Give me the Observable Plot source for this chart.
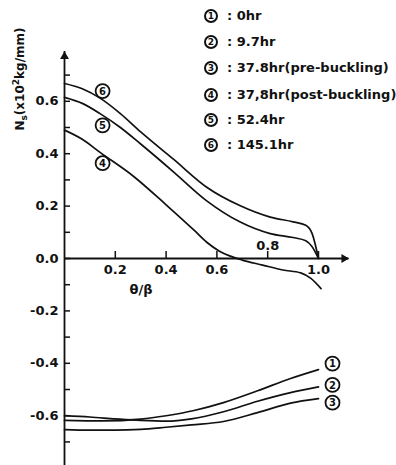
<!DOCTYPE html>
<html><head><meta charset="utf-8">
<script src="https://cdn.jsdelivr.net/npm/d3@7"></script>
<script src="https://cdn.jsdelivr.net/npm/@observablehq/plot@0.6"></script>
<style>
body{margin:0;background:#fff;}
#wrap{position:relative;width:396px;height:465px;font-family:"DejaVu Sans",sans-serif;color:#111;}
.row{position:absolute;left:204px;height:20px;line-height:20px;white-space:nowrap;font-weight:bold;font-size:13px;}
.row .c{display:inline-block;box-sizing:border-box;width:14px;height:14px;border:2px solid #111;border-radius:50%;
  font-size:9px;line-height:10px;text-align:center;vertical-align:middle;margin-top:-2px;}
.row .t{margin-left:9px;}
</style></head><body><div id="wrap"></div>
<script>
// ---- data ----
const xTicks = [0.2, 0.4, 0.6, 0.8, 1.0];
const yTicks = [-0.7, -0.6, -0.5, -0.4, -0.3, -0.2, -0.1, 0, 0.1, 0.2, 0.3, 0.4, 0.5, 0.6, 0.7];
const yTickLabels = [-0.6, -0.4, -0.2, 0, 0.2, 0.4, 0.6];
const seriesNumbers = ["1", "2", "3", "4", "5", "6"];
const legendTexts = ["0hr", "9.7hr", "37.8hr(pre-buckling)", "37,8hr(post-buckling)", "52.4hr", "145.1hr"];

const s1 = [[0,-0.618],[0.15,-0.62],[0.3,-0.613],[0.4,-0.600],[0.51,-0.580],[0.626,-0.550],[0.76,-0.505],[0.89,-0.458],[1.0,-0.424]];
const s2 = [[0,-0.600],[0.1,-0.605],[0.2,-0.612],[0.3,-0.618],[0.4,-0.621],[0.5,-0.612],[0.626,-0.585],[0.76,-0.545],[0.89,-0.512],[1.0,-0.49]];
const s3 = [[0,-0.653],[0.1,-0.655],[0.2,-0.655],[0.3,-0.652],[0.4,-0.644],[0.5,-0.635],[0.626,-0.622],[0.76,-0.588],[0.89,-0.552],[1.0,-0.535]];
const s4 = [[0,0.49],[0.07,0.455],[0.14,0.405],[0.27,0.315],[0.40,0.205],[0.51,0.108],[0.56,0.062],[0.61,0.028],[0.65,0.01],[0.70,-0.006],[0.78,-0.025],[0.86,-0.044],[0.93,-0.055],[0.97,-0.076],[1.01,-0.115]];
const s5 = [[0,0.615],[0.07,0.592],[0.14,0.553],[0.22,0.50],[0.30,0.437],[0.43,0.33],[0.56,0.22],[0.69,0.14],[0.81,0.095],[0.90,0.08],[0.95,0.068],[0.975,0.045],[1.0,0.0]];
const s6 = [[0,0.668],[0.07,0.648],[0.14,0.612],[0.22,0.553],[0.30,0.483],[0.43,0.378],[0.56,0.272],[0.69,0.202],[0.81,0.158],[0.90,0.14],[0.95,0.127],[0.975,0.095],[1.0,0.0]];

const xDomain = [0, 1.12];
const yDomain = [-0.79, 0.79];

// ---- build ----
const seriesList = [s1, s2, s3, s4, s5, s6];
const rows = seriesList.flatMap((s, i) => s.map(([x, y]) => ({series: seriesNumbers[i], x, y})));
const interp = (s, x) => {
  for (let i = 1; i < s.length; i++) if (s[i][0] >= x) {
    const [x0, y0] = s[i-1], [x1, y1] = s[i];
    return y0 + (y1 - y0) * (x - x0) / (x1 - x0);
  }
  return s[s.length-1][1];
};
const circled = (d, dx, dy) => [
  Plot.dot(d, {x: "x", y: "y", r: 7, dx, dy, fill: "white", stroke: "#111", strokeWidth: 1.8}),
  Plot.text(d, {x: "x", y: "y", text: "t", dx, dy: dy + 0.5, fontSize: 10, fontWeight: "bold", fill: "#111"})
];
const labelX = 0.15;
const midLabel = (i, dy) => circled([{x: labelX, y: interp(seriesList[i], labelX), t: seriesNumbers[i]}], 0, dy);
const endLabel = (i, dy) => {
  const last = seriesList[i][seriesList[i].length - 1];
  return circled([{x: last[0], y: last[1], t: seriesNumbers[i]}], 14, dy);
};
const fmt = d => (d < 0 ? "-" : "") + Math.abs(d).toFixed(1);
const FONT = "DejaVu Sans, sans-serif";

const chart = Plot.plot({
  width: 396, height: 465,
  marginLeft: 64, marginRight: 396 - 64 - 254 * xDomain[1], marginTop: 51, marginBottom: 0,
  x: {domain: xDomain, axis: null},
  y: {domain: yDomain, axis: null},
  style: {fontFamily: FONT, color: "#111", background: "transparent"},
  marks: [
    Plot.ruleX([0], {y1: yDomain[0], y2: yDomain[1], strokeWidth: 1.8, stroke: "#111"}),
    Plot.ruleY([0], {x1: 0, x2: xDomain[1], strokeWidth: 1.8, stroke: "#111"}),
    Plot.dot([{x: 0, y: yDomain[1]}], {x: "x", y: "y", symbol: "triangle", r: 3.3, fill: "#111", stroke: "none", dy: 5}),
    Plot.dot([{x: xDomain[1], y: 0}], {x: "x", y: "y", symbol: "triangle", r: 3.3, fill: "#111", stroke: "none", rotate: 90, dx: -5}),
    Plot.ruleY(yTicks, {y: d => d, x1: 0, x2: 0, insetRight: -6, strokeWidth: 1.5, stroke: "#111"}),
    Plot.ruleX(xTicks, {x: d => d, y1: 0, y2: 0, insetTop: -7, strokeWidth: 1.5, stroke: "#111"}),
    Plot.text(yTickLabels, {x: 0, y: d => d, text: fmt, textAnchor: "end", dx: -6, fontSize: 13, fontWeight: "bold", fill: "#111"}),
    Plot.text(xTicks.filter(d => d !== 0.8), {x: d => d, y: 0, text: fmt, dy: 11, fontSize: 13, fontWeight: "bold", fill: "#111"}),
    Plot.text(xTicks.filter(d => d === 0.8), {x: d => d, y: 0, text: fmt, dy: -13, fontSize: 13, fontWeight: "bold", fill: "#111"}),
    Plot.line(rows, {x: "x", y: "y", z: "series", curve: "monotone-x", stroke: "#111", strokeWidth: 1.7}),
    midLabel(5, -9), midLabel(4, 10), midLabel(3, 9),
    endLabel(0, -6), endLabel(1, -2), endLabel(2, 4)
  ]
});

const svg = d3.select(chart);
svg.append("text").attr("x", 141).attr("y", 294).attr("text-anchor", "middle")
  .attr("font-size", 13).attr("font-weight", "bold").attr("fill", "#111").text("θ/β");
const yl = svg.append("text").attr("transform", "translate(24,79) rotate(-90)").attr("text-anchor", "middle")
  .attr("font-size", 12).attr("font-weight", "bold").attr("fill", "#111");
yl.append("tspan").text("N");
yl.append("tspan").attr("font-size", 9).attr("dy", 3).text("s");
yl.append("tspan").attr("dy", -3).text("(x10");
yl.append("tspan").attr("font-size", 9).attr("dy", -5).text("2");
yl.append("tspan").attr("dy", 5).text("kg/mm)");

const wrap = document.getElementById("wrap");
chart.style.position = "absolute"; chart.style.left = "0"; chart.style.top = "0";
wrap.appendChild(chart);
const rowTops = [6, 32, 58, 85, 110, 135];
seriesNumbers.forEach((s, i) => {
  const div = document.createElement("div");
  div.className = "row";
  div.style.top = rowTops[i] + "px";
  div.innerHTML = `<span class="c">${s}</span><span class="t">: ${legendTexts[i]}</span>`;
  wrap.appendChild(div);
});
</script></body></html>
